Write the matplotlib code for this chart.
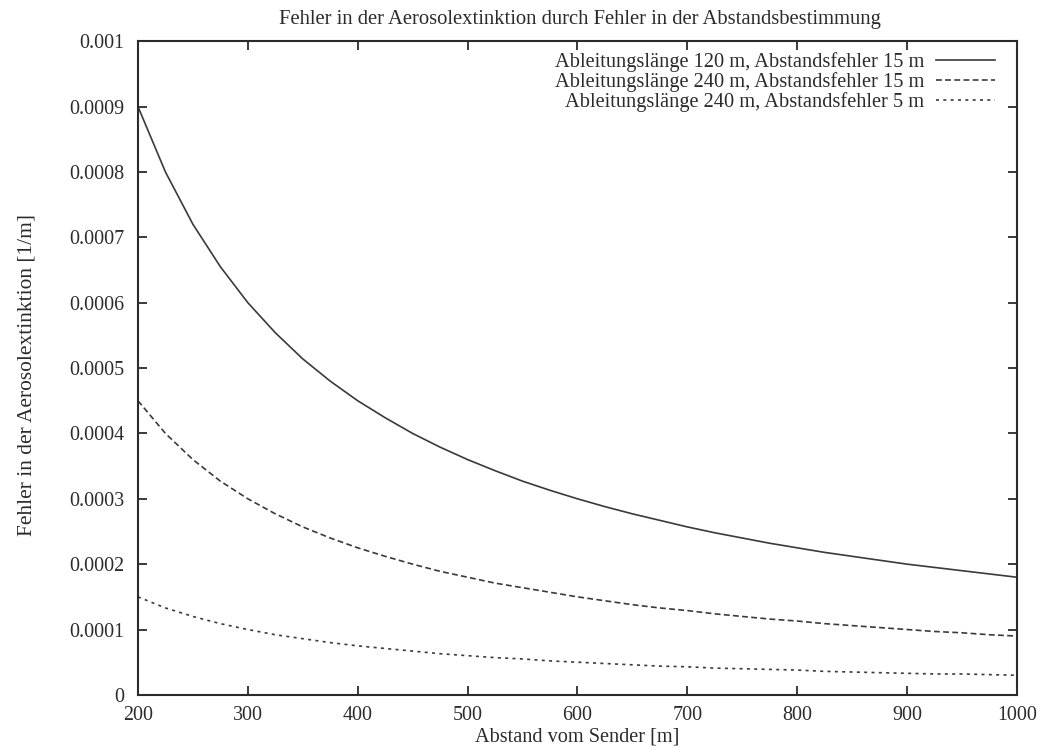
import matplotlib
matplotlib.use("Agg")
import matplotlib.pyplot as plt
from matplotlib.ticker import FixedLocator, FuncFormatter

# Abstand vom Sender [m]
abstand = [200, 225, 250, 275, 300, 325, 350, 375, 400, 425, 450, 475, 500,
           525, 550, 575, 600, 625, 650, 675, 700, 725, 750, 775, 800,
           825, 850, 875, 900, 925, 950, 975, 1000]

# Fehler in der Aerosolextinktion [1/m]
fehler_120_15 = [0.000900, 0.000800, 0.000720, 0.000655, 0.000600, 0.000554,
                 0.000514, 0.000480, 0.000450, 0.000424, 0.000400, 0.000379,
                 0.000360, 0.000343, 0.000327, 0.000313, 0.000300, 0.000288,
                 0.000277, 0.000267, 0.000257, 0.000248, 0.000240, 0.000232,
                 0.000225, 0.000218, 0.000212, 0.000206, 0.000200, 0.000195,
                 0.000190, 0.000185, 0.000180]
fehler_240_15 = [0.000450, 0.000400, 0.000360, 0.000327, 0.000300, 0.000277,
                 0.000257, 0.000240, 0.000225, 0.000212, 0.000200, 0.000189,
                 0.000180, 0.000171, 0.000164, 0.000157, 0.000150, 0.000144,
                 0.000138, 0.000133, 0.000129, 0.000124, 0.000120, 0.000116,
                 0.000113, 0.000109, 0.000106, 0.000103, 0.000100, 0.000097,
                 0.000095, 0.000092, 0.000090]
fehler_240_5 = [0.000150, 0.000133, 0.000120, 0.000109, 0.000100, 0.000092,
                0.000086, 0.000080, 0.000075, 0.000071, 0.000067, 0.000063,
                0.000060, 0.000057, 0.000055, 0.000052, 0.000050, 0.000048,
                0.000046, 0.000044, 0.000043, 0.000041, 0.000040, 0.000039,
                0.000038, 0.000036, 0.000035, 0.000034, 0.000033, 0.000032,
                0.000032, 0.000031, 0.000030]

labels = ["Ableitungslänge 120 m, Abstandsfehler 15 m",
          "Ableitungslänge 240 m, Abstandsfehler 15 m",
          "Ableitungslänge 240 m, Abstandsfehler 5 m"]

x_ticks = [200, 300, 400, 500, 600, 700, 800, 900, 1000]
y_ticks = [0, 0.0001, 0.0002, 0.0003, 0.0004, 0.0005,
           0.0006, 0.0007, 0.0008, 0.0009, 0.001]

plt.rcParams["font.family"] = ["Liberation Serif", "DejaVu Serif"]
plt.rcParams["font.size"] = 14.4

ink = "#2b2b2b"
line_ink = "#3a3a3a"

fig = plt.figure(figsize=(10.45, 7.48), dpi=100)
ax = fig.add_axes([0.132, 0.071, 0.841, 0.874])

ax.plot(abstand, fehler_120_15, color=line_ink, lw=1.2, ls="-", label=labels[0])
ax.plot(abstand, fehler_240_15, color=line_ink, lw=1.2, ls=(0, (3.5, 2.0)), label=labels[1])
ax.plot(abstand, fehler_240_5, color=line_ink, lw=1.2, ls=(0, (1.8, 2.6)), label=labels[2])

ax.set_xlim(200, 1000)
ax.set_ylim(0, 0.001)
ax.xaxis.set_major_locator(FixedLocator(x_ticks))
ax.yaxis.set_major_locator(FixedLocator(y_ticks))
ax.yaxis.set_major_formatter(FuncFormatter(lambda v, p: "0" if v == 0 else f"{v:g}"))
ax.tick_params(direction="in", length=6.5, width=1.3, color=ink, labelcolor=ink,
               top=True, right=True)
ax.tick_params(axis="x", pad=8)
ax.tick_params(axis="y", pad=10)
for s in ax.spines.values():
    s.set_linewidth(1.5)
    s.set_color(ink)

ax.set_title("Fehler in der Aerosolextinktion durch Fehler in der Abstandsbestimmung",
             color=ink, fontsize=14.9, pad=12, x=0.503)
ax.set_xlabel("Abstand vom Sender [m]", color=ink, fontsize=14.6, labelpad=2)
ax.set_ylabel("Fehler in der Aerosolextinktion [1/m]", color=ink, fontsize=15.4)
ax.yaxis.set_label_coords(-0.115, 0.49)

leg = ax.legend(loc="upper right", bbox_to_anchor=(0.985, 0.9955), frameon=False,
                markerfirst=False, fontsize=14.7, handlelength=2.9,
                handletextpad=0.6, labelspacing=0.0, borderaxespad=0)
for t in leg.get_texts():
    t.set_color(ink)

fig.savefig("out.png", dpi=100)
